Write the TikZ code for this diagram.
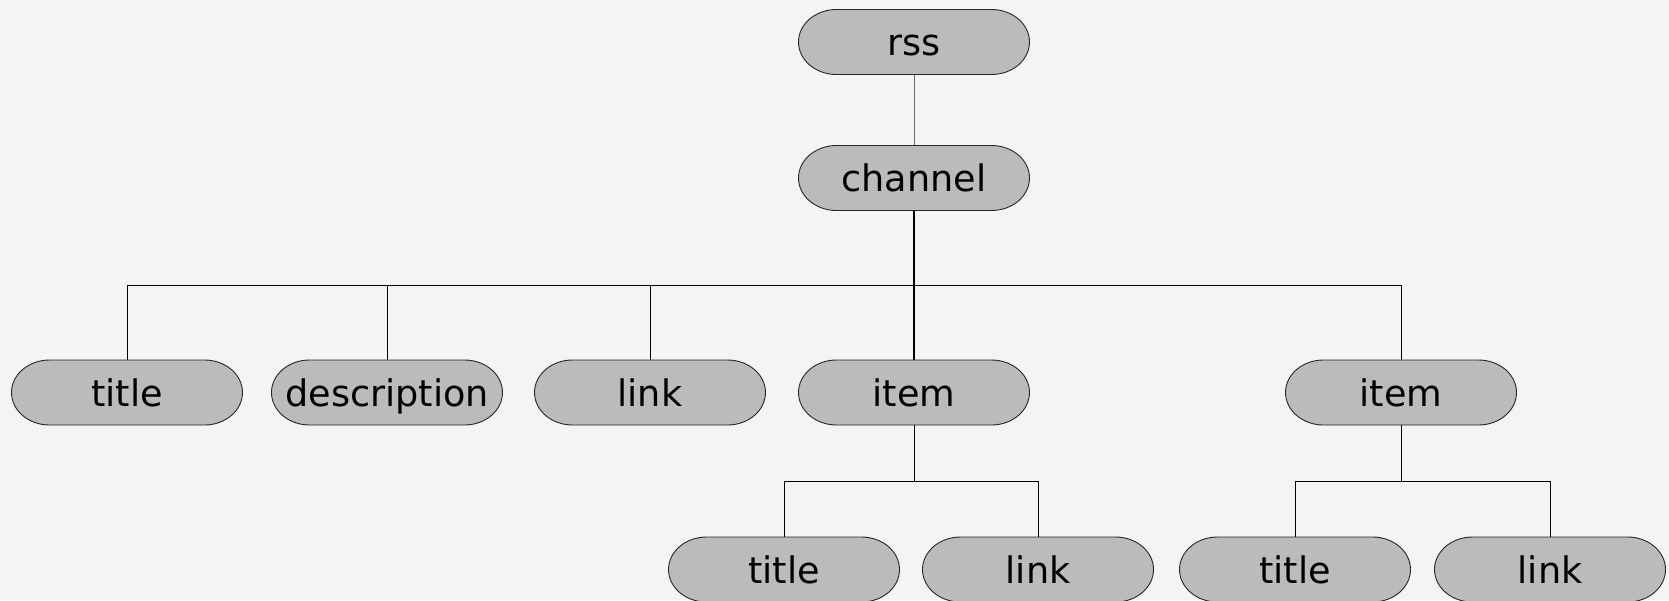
\documentclass[tikz,border=0pt]{standalone}
\usepackage{fontspec}
\setmainfont{DejaVu Sans}
\definecolor{bggray}{HTML}{F3F4F5}
\definecolor{nodegray}{HTML}{BBBBBB}
\begin{document}
\begin{tikzpicture}[x=1pt,y=-1pt]
\tikzset{
  pillshape/.style={draw=black!85, fill=nodegray, line width=0.9pt},
  el/.style={minimum width=231pt, minimum height=65pt, inner sep=0pt, text height=28pt, text depth=1pt, font=\fontsize{36.6}{40}\selectfont},
  conn/.style={draw=black, line width=1pt},
  trunk/.style={draw=black, line width=1.6pt}
}
\newcommand\pillnode[4]{%
  \filldraw[pillshape] (#2-77.5,#3-32.5) -- (#2+77.5,#3-32.5)
    arc[start angle=90, end angle=-90, x radius=38pt, y radius=32.5pt]
    -- (#2-77.5,#3+32.5)
    arc[start angle=270, end angle=90, x radius=38pt, y radius=32.5pt] -- cycle;
  \node[el] (#1) at (#2,#3) {#4};}
\fill[bggray] (0,0) rectangle (1669,600);
\useasboundingbox (0,0) rectangle (1669,600);
% nodes
\pillnode{rss}{914}{42}{rss}
\pillnode{channel}{914}{178}{channel}
\pillnode{title}{127}{392.5}{title}
\pillnode{desc}{387}{392.5}{description}
\pillnode{link}{650}{392.5}{link}
\pillnode{item}{914}{392.5}{item}
\pillnode{itemb}{1401}{392.5}{item}
\pillnode{ititle}{784}{569.5}{title}
\pillnode{ilink}{1038}{569.5}{link}
\pillnode{jtitle}{1295}{569.5}{title}
\pillnode{jlink}{1550}{569.5}{link}
% bus coordinates
\coordinate (bar) at (914,285);
\coordinate (bari) at (914,481);
\coordinate (barj) at (1401,481);
% connectors
\draw[draw=black!60, line width=1pt] (rss.south) -- (channel.north);
\draw[trunk] (channel.south) -- (item.north);
\draw[conn] (title.north) -- (title.north |- bar) -- (itemb.north |- bar) -- (itemb.north);
\draw[conn] (desc.north) -- (desc.north |- bar);
\draw[conn] (link.north) -- (link.north |- bar);
\draw[conn] (item.south) -- (bari);
\draw[conn] (ititle.north) -- (ititle.north |- bari) -- (ilink.north |- bari) -- (ilink.north);
\draw[conn] (itemb.south) -- (barj);
\draw[conn] (jtitle.north) -- (jtitle.north |- barj) -- (jlink.north |- barj) -- (jlink.north);
\end{tikzpicture}
\end{document}
